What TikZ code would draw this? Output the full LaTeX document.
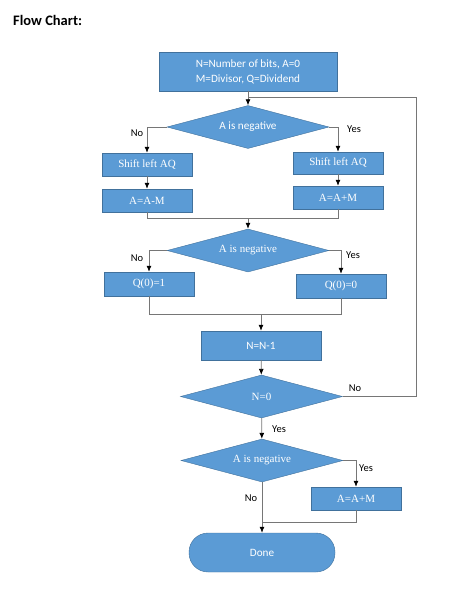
\documentclass[tikz,border=0pt]{standalone}
\usepackage{fontspec}
\setmainfont{Liberation Serif}
\newfontfamily\calfont{Carlito}
\usetikzlibrary{shapes.geometric,arrows.meta}
\definecolor{boxblue}{HTML}{5B9BD5}
\definecolor{boxedge}{HTML}{41719C}
\definecolor{wire}{HTML}{767676}
\tikzset{
    proc/.style={draw=boxedge,fill=boxblue,text=white,inner sep=0pt,font=\fontsize{11}{13}\selectfont},
    dec/.style={diamond,aspect=3.8,draw=boxedge,fill=boxblue,text=white,inner sep=0pt,minimum width=162pt,minimum height=43pt,font=\fontsize{11}{13}\selectfont},
    lbl/.style={font=\calfont\fontsize{10.5}{12}\selectfont,inner sep=0pt},
    line/.style={draw=wire,line width=0.8pt},
    arr/.style={line,-{Latex[length=6pt,width=5pt,color=black]}}
}
\begin{document}
\begin{tikzpicture}[x=1pt,y=-1pt]
    \useasboundingbox (0,0) rectangle (474,591);
    \node[anchor=west,font=\calfont\bfseries\fontsize{14.5}{17}\selectfont,inner sep=0pt] (title) at (13,20) {Flow Chart:};
    % boxes
    \node[proc,minimum width=178pt,minimum height=39pt,align=center,font=\calfont\fontsize{11.2}{15}\selectfont] (init) at (248,71.5) {N=Number of bits, A=0\\M=Divisor, Q=Dividend};
    \node[dec,font=\calfont\fontsize{11.2}{13}\selectfont] (d1) at (248,127) {A is negative};
    \node[proc,minimum width=90pt,minimum height=23pt] (sl1) at (147,164.5) {Shift left AQ};
    \node[proc,minimum width=90pt,minimum height=22pt] (sr1) at (338,163) {Shift left AQ};
    \node[proc,minimum width=90pt,minimum height=23pt] (am1) at (147,200.5) {A=A-M};
    \node[proc,minimum width=90pt,minimum height=23pt] (ap1) at (338,197.5) {A=A+M};
    \node[dec] (d2) at (248,250.5) {A is negative};
    \node[proc,minimum width=90pt,minimum height=24pt] (q1) at (149,284) {Q(0)=1};
    \node[proc,minimum width=90pt,minimum height=24pt] (q0) at (341,286) {Q(0)=0};
    \node[proc,minimum width=120pt,minimum height=29pt,font=\calfont\fontsize{11.2}{13}\selectfont] (dec) at (261,345.5) {N=N-1};
    \node[dec] (d3) at (261.5,396.5) {N=0};
    \node[dec] (d4) at (262,460.5) {A is negative};
    \node[proc,minimum width=90pt,minimum height=23pt] (ap2) at (356,498.5) {A=A+M};
    \node[proc,rounded corners=19pt,minimum width=146pt,minimum height=39pt,font=\calfont\fontsize{11.2}{13}\selectfont] (done) at (262,552.5) {Done};
    % joints
    \coordinate (j1) at (248,97);
    \coordinate (rt) at (416,97);
    \coordinate (j2) at (248,218);
    \coordinate (j3) at (261,314);
    \coordinate (j4) at (262,522);
    % labels
    \node[lbl] (no1) at (137,133) {No};
    \node[lbl] (yes1) at (354,129) {Yes};
    \node[lbl] (no2) at (137,258) {No};
    \node[lbl] (yes2) at (353,255) {Yes};
    \node[lbl] (no3) at (355,388) {No};
    \node[lbl] (yes3) at (279,429) {Yes};
    \node[lbl] (yes4) at (366,468) {Yes};
    \node[lbl] (no4) at (251,498) {No};
    % connectors
    \draw[arr] (init) -- (d1);
    \draw[arr] (d1.west) -| (sl1);
    \draw[arr] (d1.east) -| (sr1);
    \draw[arr] (sl1) -- (am1);
    \draw[arr] (sr1) -- (ap1);
    \draw[line] (am1) |- (j2);
    \draw[line] (ap1) |- (j2);
    \draw[arr] (j2) -- (d2);
    \draw[arr] (d2.west) -| (q1);
    \draw[arr] (d2.east) -| (q0);
    \draw[line] (q1) |- (j3);
    \draw[line] (q0) |- (j3);
    \draw[arr] (j3) -- (dec);
    \draw[arr] (dec) -- (d3);
    \draw[line] (d3.east) -| (rt) -- (j1);
    \draw[arr] (d3) -- (d4);
    \draw[arr] (d4.east) -| (ap2);
    \draw[line] (ap2) |- (j4);
    \draw[arr] (d4) -- (done);
\end{tikzpicture}
\end{document}
